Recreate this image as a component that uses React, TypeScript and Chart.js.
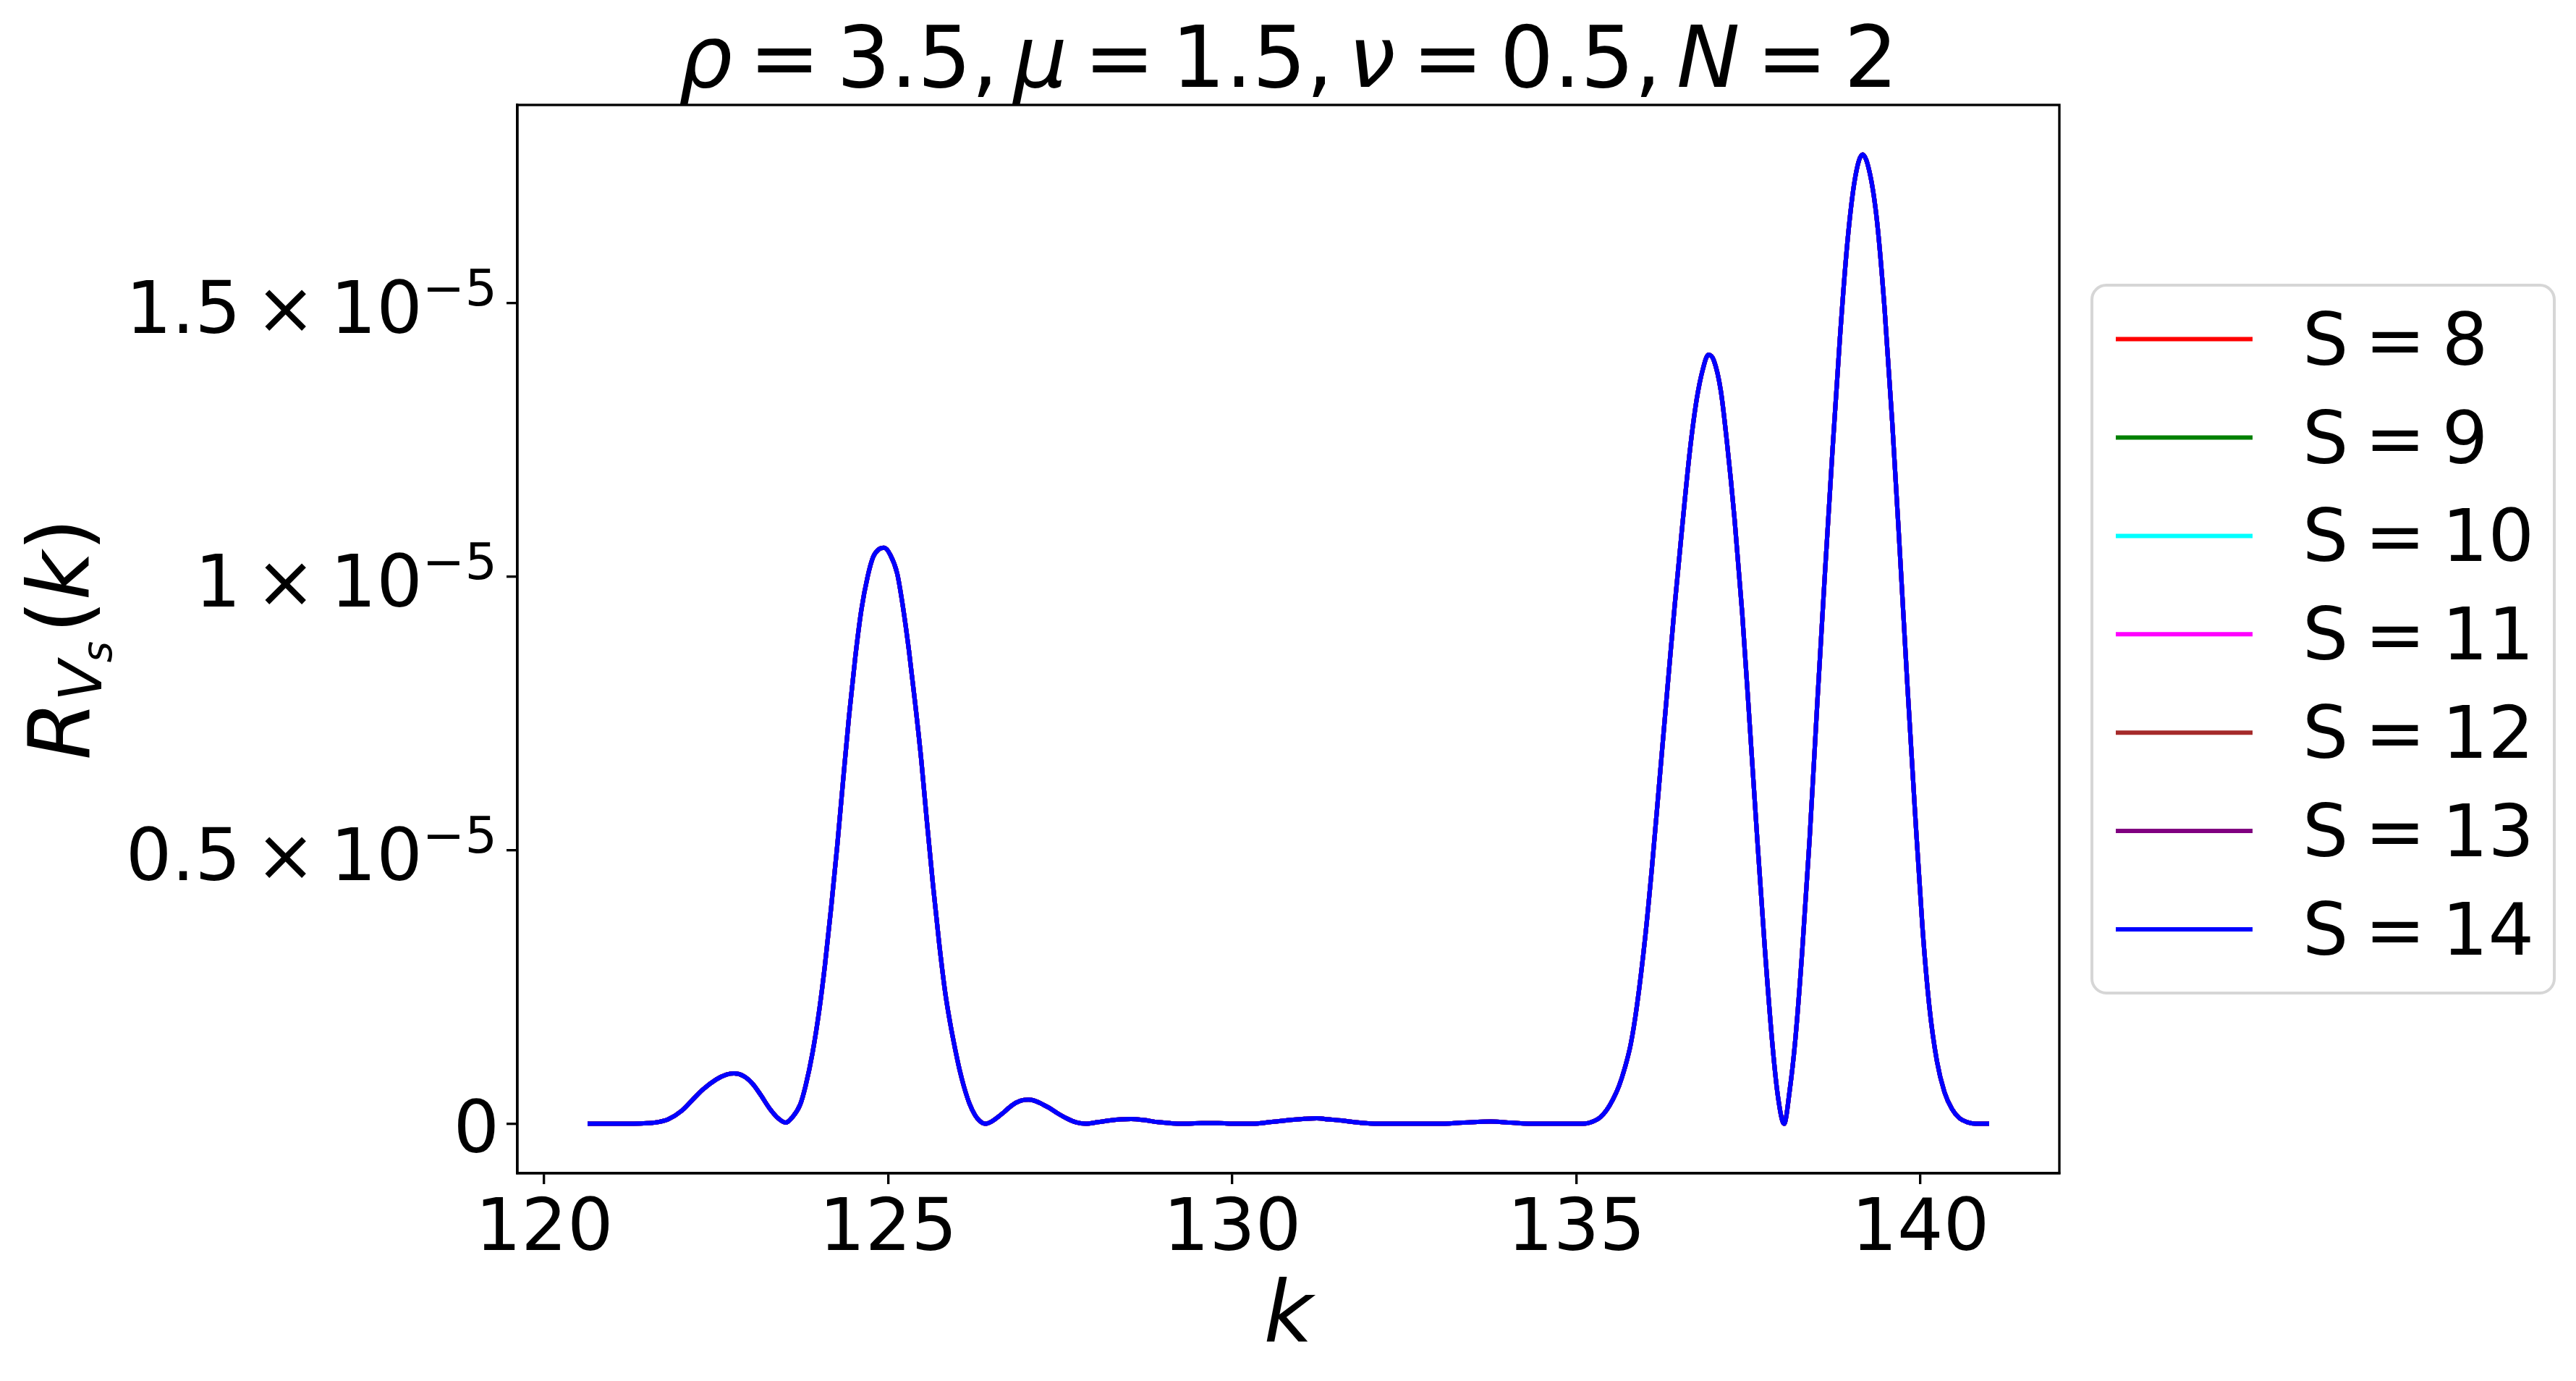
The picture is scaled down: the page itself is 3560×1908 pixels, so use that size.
import React, { useEffect, useRef } from "react";
import { Chart, registerables } from "chart.js";

Chart.register(...registerables);

// ---------------- data ----------------
const kValues = [
  120.63, 121.0, 121.3, 121.5, 121.65, 121.8, 122.0, 122.15, 122.3, 122.5,
  122.65, 122.76, 122.9, 123.03, 123.15, 123.27, 123.4, 123.51, 123.6, 123.72,
  123.8, 123.9, 124.0, 124.08, 124.17, 124.26, 124.34, 124.43, 124.52, 124.61,
  124.7, 124.78, 124.86, 124.94, 125.03, 125.13, 125.21, 125.3, 125.39, 125.48,
  125.56, 125.65, 125.74, 125.83, 125.9, 125.97, 126.04, 126.1, 126.18, 126.26,
  126.33, 126.41, 126.5, 126.6, 126.68, 126.8, 126.92, 127.04, 127.15, 127.25,
  127.34, 127.45, 127.59, 127.72, 127.87, 128.05, 128.22, 128.38, 128.53, 128.7,
  128.92, 129.1, 129.27, 129.55, 129.8, 130.05, 130.3, 130.55, 130.85, 131.05,
  131.23, 131.4, 131.58, 131.85, 132.11, 132.5, 133.0, 133.35, 133.76, 134.05,
  134.4, 134.8, 135.1, 135.26, 135.35, 135.44, 135.53, 135.62, 135.7, 135.79,
  135.88, 136.0, 136.1, 136.2, 136.32, 136.43, 136.54, 136.65, 136.75, 136.84,
  136.92, 137.0, 137.1, 137.19, 137.3, 137.41, 137.52, 137.63, 137.74, 137.85,
  137.93, 138.02, 138.1, 138.18, 138.28, 138.39, 138.5, 138.61, 138.72, 138.83,
  138.94, 139.05, 139.16, 139.27, 139.37, 139.48, 139.59, 139.7, 139.81, 139.92,
  140.03, 140.13, 140.24, 140.35, 140.46, 140.57, 140.68, 140.8, 141.0,
];

// R_{V_s}(k) in units of 1e-5 (identical for every S)
const rValues = [
  0, 0, 0, 0.001, 0.003, 0.008, 0.024, 0.043, 0.062, 0.081,
  0.09, 0.092, 0.087, 0.073, 0.052, 0.029, 0.01, 0.002, 0.011, 0.035,
  0.07, 0.13, 0.21, 0.29, 0.395, 0.51, 0.622, 0.745, 0.852, 0.94,
  1.0, 1.036, 1.05, 1.053, 1.04, 1.006, 0.948, 0.866, 0.77, 0.665,
  0.555, 0.437, 0.33, 0.238, 0.184, 0.138, 0.097, 0.068, 0.037, 0.016,
  0.005, 0.0, 0.004, 0.013, 0.021, 0.034, 0.042, 0.044, 0.041, 0.035,
  0.029, 0.02, 0.01, 0.003, 0.0, 0.003, 0.006, 0.008, 0.0086, 0.007,
  0.003, 0.001, 0.0, 0.001, 0.001, 0.0, 0.0, 0.003, 0.007, 0.009,
  0.01, 0.008, 0.006, 0.002, 0.0, 0.0, 0.0, 0.002, 0.004, 0.002,
  0.0, 0.0, 0.0, 0.005, 0.012, 0.025, 0.044, 0.069, 0.1, 0.145,
  0.215, 0.34, 0.47, 0.615, 0.79, 0.948, 1.093, 1.23, 1.325, 1.38,
  1.406, 1.395, 1.34, 1.245, 1.105, 0.935, 0.73, 0.52, 0.32, 0.145,
  0.05, 0.0, 0.06, 0.15, 0.31, 0.52, 0.765, 1.0, 1.225, 1.435,
  1.612, 1.728, 1.772, 1.735, 1.65, 1.49, 1.285, 1.05, 0.805, 0.575,
  0.36, 0.215, 0.115, 0.058, 0.027, 0.01, 0.003, 0.0, 0.0,
];

const seriesLabels = ["S = 8", "S = 9", "S = 10", "S = 11", "S = 12", "S = 13", "S = 14"];
const seriesColors = ["#ff0000", "#008000", "#00ffff", "#ff00ff", "#a52a2a", "#800080", "#0000ff"];

const xTicks = [120, 125, 130, 135, 140];
const xTickLabels = ["120", "125", "130", "135", "140"];
const yTicks = [0, 0.5, 1, 1.5];
const yTickMantissas = ["0", "0.5", "1", "1.5"];
const yTickExponent = "\u22125";

// title pieces: [text, italic]
const titleParts: [string, boolean][] = [
  ["\u03c1", true], ["=", false], ["3.5,", false], ["\u03bc", true], ["=", false], ["1.5,", false],
  ["\u03bd", true], ["=", false], ["0.5,", false], ["N", true], ["=", false], ["2", false],
];
const xAxisLabel = "k";

// ---------------- drawing helpers ----------------
const FAM = '"DejaVu Sans"';
const W = 3560;
const H = 1908;

const decorPlugin = {
  id: "decor",
  afterDraw(chart: any) {
    const ctx: CanvasRenderingContext2D = chart.ctx;
    const { left, right, top, bottom } = chart.chartArea;
    const xs = chart.scales.x;
    const ys = chart.scales.y;
    ctx.save();

    // frame (all four spines)
    ctx.strokeStyle = "#000";
    ctx.lineWidth = 3.33;
    ctx.strokeRect(left, top, right - left, bottom - top);

    ctx.fillStyle = "#000";
    ctx.textBaseline = "alphabetic";

    // x tick labels
    ctx.font = `100px ${FAM}`;
    ctx.textAlign = "center";
    xTicks.forEach((v, i) => {
      ctx.fillText(xTickLabels[i], xs.getPixelForValue(v), 1727);
    });

    // y tick labels (mathtext style)
    yTicks.forEach((v, i) => {
      const ty = ys.getPixelForValue(v);
      const mant = yTickMantissas[i];
      ctx.textAlign = "right";
      if (v === 0) {
        ctx.font = `100px ${FAM}`;
        ctx.fillText(mant, 690, ty + 39);
        return;
      }
      const anchor = 687;
      ctx.font = `70px ${FAM}`;
      ctx.fillText(yTickExponent, anchor, ty + 3);
      const supW = ctx.measureText(yTickExponent).width;
      ctx.font = `100px ${FAM}`;
      let xr = anchor - supW;
      ctx.fillText("10", xr, ty + 41);
      xr -= ctx.measureText("10").width + 20;
      ctx.fillText("\u00d7", xr, ty + 41);
      xr -= ctx.measureText("\u00d7").width + 20;
      ctx.fillText(mant, xr, ty + 41);
    });

    // title
    const tSize = 117;
    const G = 23;
    const C = 21;
    ctx.textAlign = "left";
    const widths: number[] = [];
    const gapsAfter: number[] = [];
    titleParts.forEach(([t, it], i) => {
      ctx.font = `${it ? "italic " : ""}${tSize}px ${FAM}`;
      widths.push(ctx.measureText(t).width);
      const next = titleParts[i + 1];
      let g = 0;
      if (next) {
        if (t === "=" || next[0] === "=") g = G;
        else if (t.endsWith(",")) g = C;
      }
      gapsAfter.push(g);
    });
    const total = widths.reduce((a, b) => a + b, 0) + gapsAfter.reduce((a, b) => a + b, 0);
    let tx = (left + right) / 2 - total / 2;
    titleParts.forEach(([t, it], i) => {
      ctx.font = `${it ? "italic " : ""}${tSize}px ${FAM}`;
      ctx.fillText(t, tx, 120);
      tx += widths[i] + gapsAfter[i];
    });

    // x axis label
    ctx.font = `italic 117px ${FAM}`;
    ctx.textAlign = "center";
    ctx.fillText(xAxisLabel, (left + right) / 2, 1854);

    // y axis label R_{V_s}(k), rotated
    ctx.save();
    ctx.translate(123, (top + bottom) / 2 + 2);
    ctx.rotate(-Math.PI / 2);
    ctx.textAlign = "left";
    let u = -165;
    ctx.font = `italic 117px ${FAM}`;
    ctx.fillText("R", u, 0);
    u += ctx.measureText("R").width;
    ctx.font = `italic 82px ${FAM}`;
    ctx.fillText("V", u, 17);
    u += ctx.measureText("V").width;
    ctx.font = `italic 57px ${FAM}`;
    ctx.fillText("s", u - 3, 31);
    u += ctx.measureText("s").width + 8;
    ctx.font = `117px ${FAM}`;
    ctx.fillText("(", u, 0);
    u += ctx.measureText("(").width;
    ctx.font = `italic 117px ${FAM}`;
    ctx.fillText("k", u, 0);
    u += ctx.measureText("k").width;
    ctx.font = `117px ${FAM}`;
    ctx.fillText(")", u, 0);
    ctx.restore();

    // legend
    const lx0 = 2891, ly0 = 394, lx1 = 3530, ly1 = 1372, rad = 20;
    ctx.beginPath();
    ctx.moveTo(lx0 + rad, ly0);
    ctx.lineTo(lx1 - rad, ly0);
    ctx.arcTo(lx1, ly0, lx1, ly0 + rad, rad);
    ctx.lineTo(lx1, ly1 - rad);
    ctx.arcTo(lx1, ly1, lx1 - rad, ly1, rad);
    ctx.lineTo(lx0 + rad, ly1);
    ctx.arcTo(lx0, ly1, lx0, ly1 - rad, rad);
    ctx.lineTo(lx0, ly0 + rad);
    ctx.arcTo(lx0, ly0, lx0 + rad, ly0, rad);
    ctx.closePath();
    ctx.fillStyle = "rgba(255,255,255,0.8)";
    ctx.fill();
    ctx.strokeStyle = "#d6d6d6";
    ctx.lineWidth = 4;
    ctx.stroke();

    ctx.font = `100px ${FAM}`;
    ctx.textAlign = "left";
    try {
      (ctx as any).wordSpacing = "-9px";
    } catch (e) {
      /* ignore */
    }
    chart.data.datasets.forEach((ds: any, i: number) => {
      const cy = 468.6 + i * 135.9;
      ctx.strokeStyle = ds.borderColor;
      ctx.lineWidth = 6;
      ctx.lineCap = "butt";
      ctx.beginPath();
      ctx.moveTo(2924, cy);
      ctx.lineTo(3113, cy);
      ctx.stroke();
      ctx.fillStyle = "#000";
      ctx.fillText(ds.label, 3182, cy + 35);
    });
    ctx.restore();
  },
};

export default function App() {
  const canvasRef = useRef<HTMLCanvasElement | null>(null);

  useEffect(() => {
    const canvas = canvasRef.current;
    if (!canvas) return;
    const tickGrid = {
      display: true,
      drawOnChartArea: false,
      drawTicks: true,
      tickLength: 15,
      color: "#000",
      lineWidth: 3.33,
    };
    const border = { display: true, color: "#000", width: 3.33 };
    const n = seriesLabels.length;
    const chart = new Chart(canvas, {
      type: "line",
      data: {
        datasets: seriesLabels.map((label, i) => ({
          label,
          data: kValues.map((k, j) => ({ x: k, y: rValues[j] })),
          borderColor: seriesColors[i],
          backgroundColor: seriesColors[i],
          borderWidth: 6,
          pointRadius: 0,
          pointHoverRadius: 0,
          fill: false,
          cubicInterpolationMode: "monotone" as const,
          order: n - 1 - i,
        })),
      },
      options: {
        responsive: false,
        maintainAspectRatio: false,
        animation: false,
        devicePixelRatio: 1,
        events: [],
        layout: { padding: { left: 0, top: 145, right: 714, bottom: 0 } },
        plugins: {
          legend: { display: false },
          title: { display: false },
          tooltip: { enabled: false },
        },
        scales: {
          x: {
            type: "linear",
            min: 119.61,
            max: 142.02,
            afterFit: (s: any) => {
              s.height = 287;
            },
            afterBuildTicks: (s: any) => {
              s.ticks = xTicks.map((v) => ({ value: v }));
            },
            ticks: { display: false },
            grid: tickGrid,
            border,
          },
          y: {
            type: "linear",
            min: -0.0905,
            max: 1.8626,
            afterFit: (s: any) => {
              s.width = 715;
            },
            afterBuildTicks: (s: any) => {
              s.ticks = yTicks.map((v) => ({ value: v }));
            },
            ticks: { display: false },
            grid: tickGrid,
            border,
          },
        },
      } as any,
      plugins: [decorPlugin],
    });
    return () => chart.destroy();
  }, []);

  return (
    <div style={{ position: "fixed", left: 0, top: 0, width: W, height: H, background: "#fff" }}>
      <canvas ref={canvasRef} width={W} height={H} style={{ display: "block", width: W, height: H }} />
    </div>
  );
}
